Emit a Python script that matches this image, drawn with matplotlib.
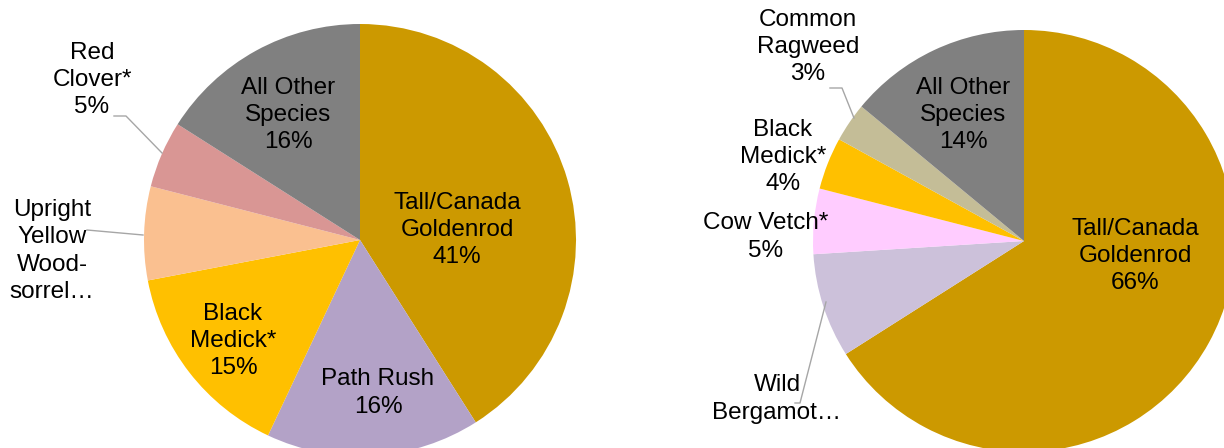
import matplotlib

matplotlib.use("Agg")
import matplotlib.pyplot as plt

plt.rcParams["font.family"] = ["Liberation Sans", "DejaVu Sans"]

# left chart
left_names = ["Tall/Canada\nGoldenrod", "Path Rush", "Black\nMedick*",
              "Upright\nYellow\nWood-\nsorrel…", "Red\nClover*", "All Other\nSpecies"]
left_values = [41, 16, 15, 7, 5, 16]
left_show_pct = [True, True, True, False, True, True]
left_colors = ["#CC9900", "#B3A2C7", "#FFC000", "#FAC090", "#D99694", "#808080"]

# right chart
right_names = ["Tall/Canada\nGoldenrod", "Wild\nBergamot…", "Cow Vetch*",
               "Black\nMedick*", "Common\nRagweed", "All Other\nSpecies"]
right_values = [66, 8, 5, 4, 3, 14]
right_show_pct = [True, False, True, True, True, True]
right_colors = ["#CC9900", "#CCC1DA", "#FFCCFF", "#FFC000", "#C4BD97", "#808080"]

W, H = 1224, 448


def px(x, y):
    # pixel position (top-left origin) -> data coords
    return x, H - y


# label layout, pixel positions of text centers
left_label_pos = [(457, 230), (378, 393), (233, 341), (52, 251), (92, 80), (288, 115)]
right_label_pos = [(1135, 256), (777, 399), (766, 237), (783, 157), (808, 47), (963, 115)]
left_leaders = {3: [(87, 230), (143, 235)], 4: [(114, 116), (126, 116), (162, 153)]}
right_leaders = {1: [(795, 403), (800, 403), (826, 302)],
                 4: [(830, 88), (842, 88), (854, 118)]}


def draw(ax, values, colors, names, show_pct, center, radius, label_pos, leaders):
    ax.pie(values, colors=colors, center=px(*center), radius=radius,
           startangle=90, counterclock=False, normalize=True,
           wedgeprops={"linewidth": 0, "antialiased": True})
    for name, value, show, pos in zip(names, values, show_pct, label_pos):
        text = f"{name}\n{value}%" if show else name
        x, y = px(*pos)
        ax.text(x, y, text, ha="center", va="center", fontsize=17.5,
                color="#000000", linespacing=1.3)
    for points in leaders.values():
        xs = [p[0] for p in points]
        ys = [H - p[1] for p in points]
        ax.plot(xs, ys, color="#A6A6A6", linewidth=1.0)


fig = plt.figure(figsize=(W / 100, H / 100), dpi=100)
ax = fig.add_axes([0, 0, 1, 1])
draw(ax, left_values, left_colors, left_names, left_show_pct,
     (360, 240), 216, left_label_pos, left_leaders)
draw(ax, right_values, right_colors, right_names, right_show_pct,
     (1024, 241), 211, right_label_pos, right_leaders)
ax.set_xlim(0, W)
ax.set_ylim(0, H)
ax.set_aspect("auto")
ax.axis("off")
fig.savefig("out.png", dpi=100)
plt.close(fig)
